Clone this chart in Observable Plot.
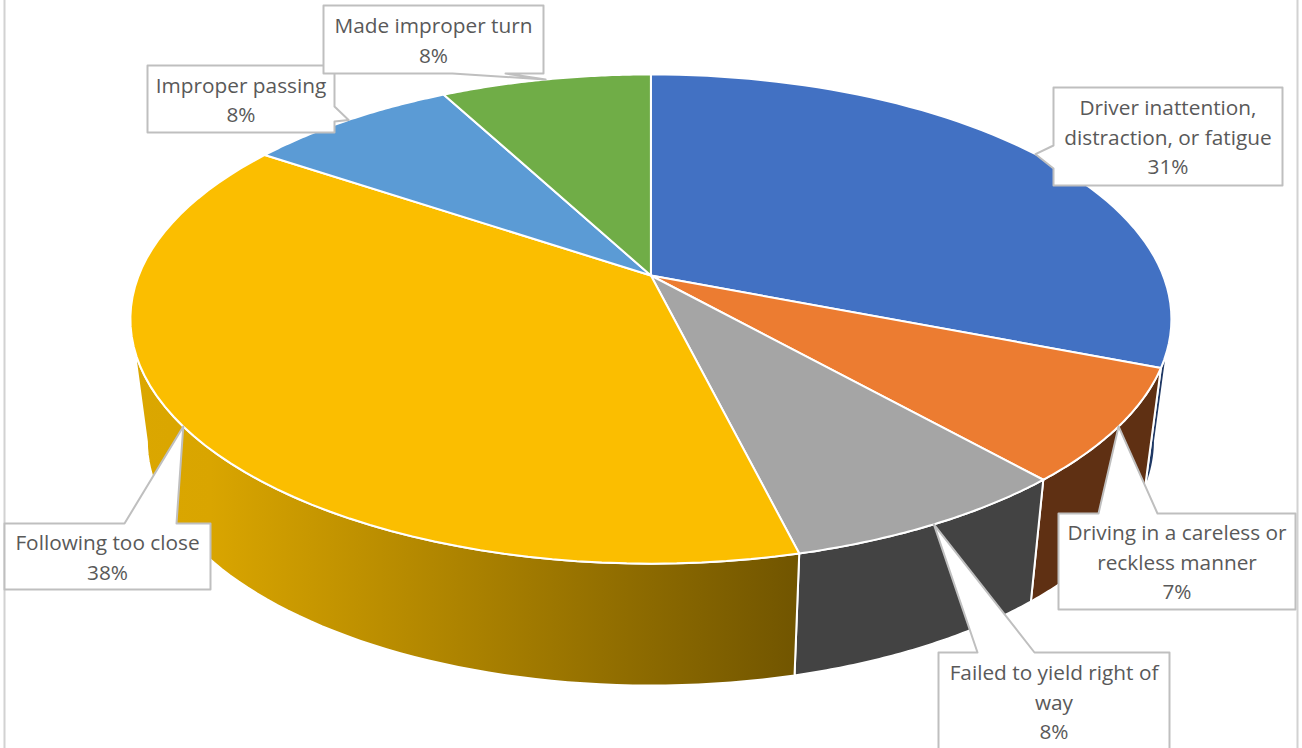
<!DOCTYPE html>
<html>
<head>
<meta charset="utf-8">
<script src="https://cdn.jsdelivr.net/npm/d3@7"></script>
<script src="https://cdn.jsdelivr.net/npm/@observablehq/plot@0.6"></script>
<style>html,body{margin:0;padding:0;background:#fff;overflow:hidden}svg{display:block}</style>
</head>
<body>
<div id="chart"></div>
<script>
// Data, clockwise from twelve o'clock
const categories = [
  "Driver inattention,\ndistraction, or fatigue",
  "Driving in a careless or\nreckless manner",
  "Failed to yield right of\nway",
  "Following too close",
  "Improper passing",
  "Made improper turn"
];
const shares = [30.95, 7.49, 7.71, 38.3, 7.8, 7.75];

// Styles
const topColors  = ["#4271c3", "#ec7c31", "#a5a5a5", "#fbbe00", "#5b9bd5", "#70ad47"];
const sideColors = ["#1f3864", "#5f3013", "#434343", "url(#gold)", "#2e5f8a", "#3f6a28"];

// Label box placement: x0, x1, y0, y1 and the wedge's base along one box side
const boxes = [
  {x0: 1053, x1: 1282, y0: 87,  y1: 185, side: "left",   a: 145, b: 168},
  {x0: 1058, x1: 1295, y0: 513, y1: 609, side: "top",    a: 1098, b: 1157},
  {x0: 938,  x1: 1169, y0: 652, y1: 750, side: "top",    a: 977, b: 1034},
  {x0: 4,    x1: 210,  y0: 523, y1: 589, side: "top",    a: 124, b: 176},
  {x0: 147,  x1: 334,  y0: 65,  y1: 132, side: "right",  a: 106, b: 121},
  {x0: 323,  x1: 543,  y0: 5,   y1: 73,  side: "bottom", a: 452, b: 505}
];

// Perspective view of the pie's top and bottom faces
const view = {cx: 650.4, k: -0.178,
  top: {a: 512.2, b: 187.9, c: 275},
  bottom: {a: 496, b: 166.7, c: 396.4}};
const project = (f, share) => {
  const t = share / 100 * 2 * Math.PI, u = Math.sin(t), v = -Math.cos(t), w = 1 + view.k * v;
  return {x: view.cx + f.a * u / w, y: (f.c + f.b * v) / w};
};
const arc = (f, s0, s1) => d3.range(0, 61).map(i => project(f, s0 + (s1 - s0) * i / 60));

const starts = d3.cumsum([0, ...shares]);
const slices = shares.map((s, i) => ({s0: starts[i], s1: starts[i + 1]}));

// Parts of the rim facing the viewer (limits are the silhouette positions)
const rimFrom = 27.9, rimTo = 72.1;
const rim = slices.map(({s0, s1}) => {
  const a = Math.max(s0, rimFrom), b = Math.min(s1, rimTo);
  return a < b ? [...arc(view.top, a, b), ...arc(view.bottom, a, b).reverse()] : null;
});

const closed = p => [...p, p[0]];
const wedge = ({s0, s1}) => closed([{x: view.cx, y: view.top.c}, ...arc(view.top, s0, s1)]);

const callout = (box, tip) => {
  const {x0, x1, y0, y1, side, a, b} = box;
  const pts = {
    top:    [{x: x0, y: y0}, {x: a, y: y0}, tip, {x: b, y: y0}, {x: x1, y: y0}, {x: x1, y: y1}, {x: x0, y: y1}],
    bottom: [{x: x0, y: y0}, {x: x1, y: y0}, {x: x1, y: y1}, {x: b, y: y1}, tip, {x: a, y: y1}, {x: x0, y: y1}],
    left:   [{x: x0, y: y0}, {x: x1, y: y0}, {x: x1, y: y1}, {x: x0, y: y1}, {x: x0, y: b}, tip, {x: x0, y: a}],
    right:  [{x: x0, y: y0}, {x: x1, y: y0}, {x: x1, y: a}, tip, {x: x1, y: b}, {x: x1, y: y1}, {x: x0, y: y1}]
  }[side];
  return closed(pts);
};

const defs = () => {
  const svg = d3.create("svg:g");
  const g = svg.append("defs").append("linearGradient").attr("id", "gold");
  g.append("stop").attr("offset", "0").attr("stop-color", "#dba700");
  g.append("stop").attr("offset", "0.12").attr("stop-color", "#d9a500");
  g.append("stop").attr("offset", "1").attr("stop-color", "#715500");
  return svg.node();
};

const line = {x: "x", y: "y", curve: "linear"};
const labels = slices.map((_, i) => ({
  x: (boxes[i].x0 + boxes[i].x1) / 2,
  y: (boxes[i].y0 + boxes[i].y1) / 2 - 1,
  text: `${categories[i]}\n${Math.round(shares[i])}%`
}));

const chart = Plot.plot({
  width: 1302, height: 748,
  margin: 0,
  x: {domain: [0, 1302], range: [0, 1302], axis: null},
  y: {domain: [0, 748], range: [0, 748], axis: null},
  style: {background: "#fff"},
  marks: [
    defs,
    ...rim.map((p, i) => p && Plot.line(closed(p), {...line, fill: sideColors[i], stroke: "#fff", strokeWidth: 2})),
    ...slices.map((s, i) => Plot.line(wedge(s), {...line, fill: topColors[i], stroke: "#fff", strokeWidth: 2})),
    Plot.ruleX([4, 1297], {stroke: "#d2d2d2", strokeWidth: 2}),
    ...slices.map((s, i) => Plot.line(callout(boxes[i], project(view.top, (s.s0 + s.s1) / 2)),
      {...line, fill: "#fff", stroke: "#bfbfbf", strokeWidth: 2})),
    Plot.text(labels, {x: "x", y: "y", text: "text", fill: "#595959", fontFamily: "Open Sans",
      fontSize: 20.8, lineHeight: 1.42, lineAnchor: "middle", textAnchor: "middle"})
  ]
});
document.getElementById("chart").append(chart);
</script>
</body>
</html>
